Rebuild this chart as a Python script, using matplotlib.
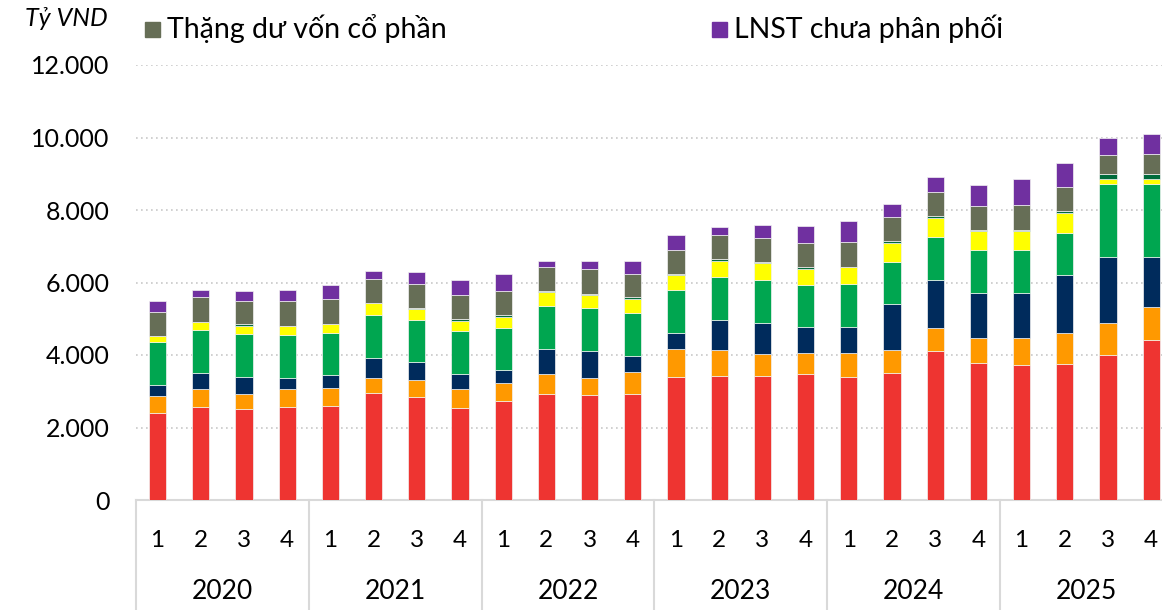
import matplotlib.pyplot as plt
from matplotlib.patches import Rectangle
from matplotlib.transforms import blended_transform_factory

# quarters 2020Q1 .. 2025Q4, values in ty VND
years = ["2020", "2021", "2022", "2023", "2024", "2025"]
quarters = ["1", "2", "3", "4"]

red = [2408, 2557, 2502, 2557, 2602, 2943, 2850, 2547, 2722, 2933, 2897, 2933,
       3385, 3429, 3429, 3467, 3402, 3512, 4119, 3788, 3733, 3760, 4008, 4422]
orange = [469, 497, 422, 497, 497, 423, 460, 515, 496, 543, 469, 598,
          772, 717, 589, 588, 644, 626, 635, 681, 745, 856, 883, 894]
navy = [287, 449, 478, 320, 340, 560, 488, 423, 368, 680, 735, 450,
        459, 828, 874, 708, 735, 1260, 1324, 1232, 1241, 1591, 1804, 1379]
green = [1186, 1187, 1177, 1186, 1177, 1177, 1177, 1168, 1168, 1187, 1187, 1178,
         1177, 1169, 1186, 1159, 1187, 1176, 1168, 1187, 1178, 1167, 2022, 2022]
yellow = [174, 220, 230, 240, 230, 322, 294, 294, 303, 395, 377, 394,
          414, 459, 460, 460, 469, 524, 542, 523, 532, 552, 130, 138]
dark_green = [0, 0, 45, 0, 0, 0, 30, 46, 37, 20, 28, 38,
              20, 37, 28, 36, 0, 38, 37, 37, 28, 37, 138, 130]
share_premium = [670, 682, 635, 681, 690, 663, 671, 653, 663, 671, 679, 643,
                 671, 662, 670, 672, 671, 662, 662, 662, 672, 663, 532, 551]
retained = [304, 201, 276, 321, 404, 229, 313, 423, 477, 165, 221, 359,
            413, 221, 341, 460, 579, 368, 432, 580, 735, 662, 461, 552]

yticks = [0, 2000, 4000, 6000, 8000, 10000, 12000]

series = [
    (red, "#ee3431"),
    (orange, "#ff9900"),
    (navy, "#002b5c"),
    (green, "#00a650"),
    (yellow, "#ffff00"),
    (dark_green, "#006b3c"),
    (share_premium, "#666e56"),
    (retained, "#7030a0"),
]

FONT = ["Lato", "DejaVu Sans"]
plt.rcParams["font.family"] = FONT

W, H = 1162, 610
fig = plt.figure(figsize=(W / 100, H / 100), dpi=100)
# axes runs a bit past the right edge, the last year box is cut like in the source
left, bottom, top = 136, 500, 65
ax = fig.add_axes([left / W, (H - bottom) / H, 24 * 43.2 / W, (bottom - top) / H])

n = len(red)
x = list(range(n))
base = [0.0] * n
for vals, col in series:
    ax.bar(x, vals, bottom=base, width=0.4, color=col, edgecolor="#f2f2f2",
           linewidth=0.5, zorder=3)
    base = [b + v for b, v in zip(base, vals)]

ax.set_xlim(-0.5, n - 0.5)
ax.set_ylim(0, 12000)
ax.set_yticks(yticks)
ax.set_yticklabels([f"{v:,}".replace(",", ".") for v in yticks], fontsize=18)
ax.tick_params(axis="y", length=0, pad=19)
ax.set_xticks([])
for v in yticks[1:]:
    ax.axhline(v, color="#c8c8c8", linestyle=(0, (1, 2)), linewidth=1.2, zorder=1)
for s in ["left", "right", "top"]:
    ax.spines[s].set_visible(False)
ax.spines["bottom"].set_color("#d9d9d9")
ax.spines["bottom"].set_linewidth(1.5)

# two-level category axis
tr = blended_transform_factory(ax.transData, ax.transAxes)
for i in range(n):
    ax.text(i, -0.092, quarters[i % 4], transform=tr, ha="center", va="center",
            fontsize=17.5, clip_on=False)
for k, yr in enumerate(years):
    ax.text(4 * k + 1.5, -0.211, yr, transform=tr, ha="center", va="center",
            fontsize=19, clip_on=False)
for k in range(len(years) + 1):
    ax.plot([4 * k - 0.5, 4 * k - 0.5], [0, -0.26], transform=tr, color="#d9d9d9",
            linewidth=1.5, clip_on=False)

# unit label and legend at the top
fig.text(25 / W, 1 - 19 / H, "Tỷ VND", fontsize=18, style="italic", va="center", ha="left")
for px, label, col in [(145, "Thặng dư vốn cổ phần", "#666e56"),
                       (712, "LNST chưa phân phối", "#7030a0")]:
    fig.patches.append(Rectangle((px / W, 1 - 37 / H), 15 / W, 15 / H,
                                 transform=fig.transFigure, color=col))
    fig.text((px + 22) / W, 1 - 29 / H, label, fontsize=20.5, va="center", ha="left")

fig.savefig("out.png", dpi=100)
